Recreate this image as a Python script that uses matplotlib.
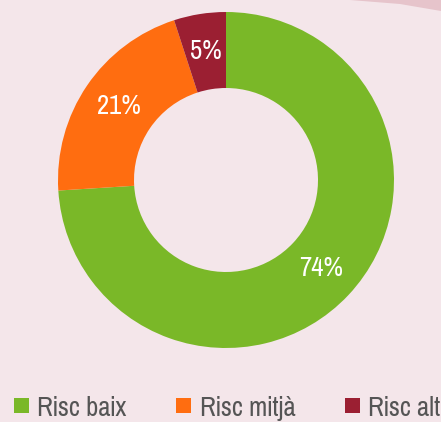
import matplotlib
matplotlib.use("Agg")
import matplotlib.pyplot as plt
from matplotlib.patches import Polygon, Rectangle
from matplotlib.transforms import IdentityTransform

categories = ["Risc baix", "Risc mitjà", "Risc alt"]
values = [74, 21, 5]
colors = ["#7ab828", "#ff6d10", "#9b1f32"]
bg = "#f4e6ea"
fam = ["Pragati Narrow", "DejaVu Sans"]

W, H = 441, 422
fig = plt.figure(figsize=(W / 100, H / 100), dpi=100, facecolor=bg)
ax = fig.add_axes([0, 0, 1, 1])
ax.set_facecolor(bg)
px = IdentityTransform()

# decoration top right
fig.patches.append(Polygon([[350, H], [W, H], [W, H - 11], [400, H - 4]],
                           closed=True, transform=px, facecolor="#e6c4cb", edgecolor="none"))

R = 168
rin = 92
cx, cy = 226, H - 180
wedges, texts, autotexts = ax.pie(values, colors=colors, startangle=90, counterclock=False,
                                  radius=R, center=(cx, cy),
                                  wedgeprops=dict(width=R - rin, edgecolor="none"),
                                  autopct="%d%%", pctdistance=(R + rin) / 2 / R,
                                  textprops=dict(color="white", fontsize=21, family=fam))
ax.set_xlim(0, W)
ax.set_ylim(0, H)
ax.set_aspect("equal")
ax.axis("off")

# legend (manual layout)
sq_x = [14, 176, 345]
tx_x = [37, 200, 368]
for c, lab, sx, tx in zip(colors, categories, sq_x, tx_x):
    fig.patches.append(Rectangle((sx, H - 413), 15, 15, transform=px, facecolor=c, edgecolor="none"))
    fig.text(tx, H - 416, lab, transform=px, family=fam, fontsize=21, color="#555555",
             ha="left", va="baseline")

fig.savefig("out.png", dpi=100, facecolor=bg)
